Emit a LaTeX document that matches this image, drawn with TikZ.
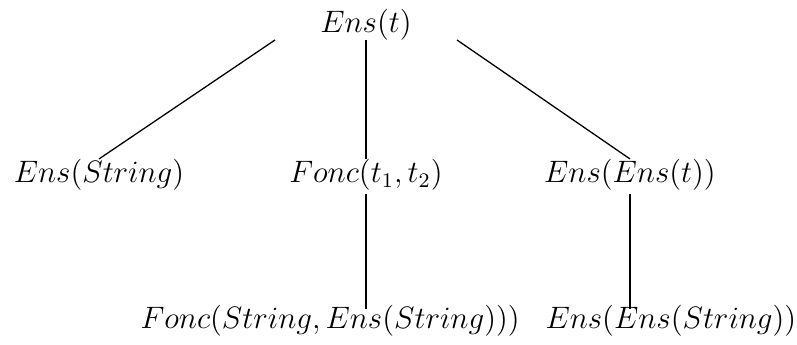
\documentclass[tikz,border=0pt]{standalone}
\usepackage{amsmath,amssymb}
\usepackage{tikz}
\usetikzlibrary{calc,positioning}
\tikzset{
  term/.style={rectangle,draw=none,inner xsep=0pt,inner ysep=1.6pt,
    font=\fontsize{12}{14}\selectfont,
    text height=0.75em,text depth=0.25em,anchor=base},
  root/.style={term,inner ysep=0pt,minimum width=70pt},
  leaf/.style={term,inner ysep=0pt,anchor=base west},
  edge/.style={line width=0.5pt}
}

\begin{document}
\begin{tikzpicture}[x=0.387pt,y=-0.387pt]
  \useasboundingbox (0,0) rectangle (797,345);
  \node[root] (ens) at (366,33) {$Ens(t)$};
  \node[term] (ensS) at (99,183) {$Ens(String)$};
  \node[term] (fonc) at (366,183) {$Fonc(t_1,t_2)$};
  \node[term] (ensE) at (630,183) {$Ens(Ens(t))$};
  \node[leaf] (foncS) at (140,329) {$Fonc(String,Ens(String)))$};
  \node[leaf] (ensES) at (545,329) {$Ens(Ens(String))$};
  \draw[edge] (ens.south west) -- (ensS.north);
  \draw[edge] (ens.south) -- (fonc.north);
  \draw[edge] (ens.south east) -- (ensE.north);
  \draw[edge] (fonc.south) -- (fonc.south |- foncS.north);
  \draw[edge] (ensE.south) -- (ensE.south |- ensES.north);
\end{tikzpicture}
\end{document}
